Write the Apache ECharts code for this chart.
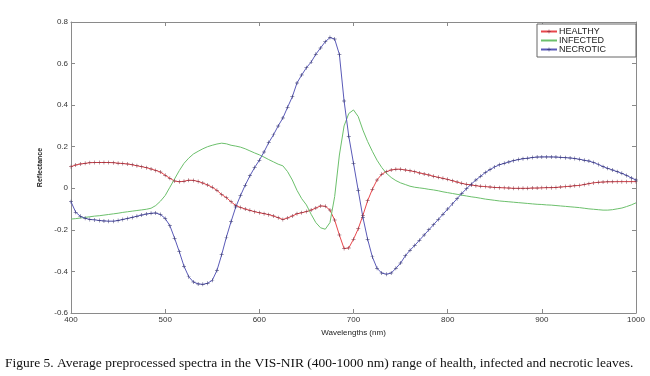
<!DOCTYPE html>
<html>
<head>
<meta charset="utf-8">
<script src="https://cdn.jsdelivr.net/npm/echarts@6/dist/echarts.min.js"></script>
<style>
html, body { margin: 0; padding: 0; background: #fff; }
#chart { width: 650px; height: 376px; }
</style>
</head>
<body>
<div id="chart"></div>
<script>
// longitudes de onda, cada 5 nm
const wavelengths = [];
for (let w = 400; w <= 1000; w += 5) wavelengths.push(w);

const healthy = [
  0.104, 0.112, 0.117, 0.120, 0.123, 0.124, 0.124, 0.124, 0.124, 0.123,
  0.121, 0.119, 0.117, 0.113, 0.108, 0.104, 0.099, 0.093, 0.086, 0.078,
  0.063, 0.048, 0.035, 0.031, 0.034, 0.039, 0.038, 0.033, 0.025, 0.016,
  0.005, -0.010, -0.030, -0.045, -0.065, -0.083, -0.092, -0.100, -0.106, -0.113,
  -0.118, -0.122, -0.127, -0.133, -0.142, -0.150, -0.143, -0.133, -0.123, -0.118,
  -0.112, -0.105, -0.095, -0.085, -0.086, -0.105, -0.153, -0.225, -0.290, -0.287,
  -0.245, -0.195, -0.130, -0.060, -0.005, 0.040, 0.068, 0.080, 0.088, 0.092,
  0.092, 0.088, 0.084, 0.080, 0.074, 0.069, 0.064, 0.058, 0.053, 0.048,
  0.043, 0.036, 0.030, 0.024, 0.019, 0.016, 0.012, 0.010, 0.008, 0.006,
  0.004, 0.003, 0.002, 0.001, 0.000, 0.000, 0.000, 0.000, 0.001, 0.001,
  0.002, 0.003, 0.003, 0.004, 0.006, 0.008, 0.010, 0.012, 0.014, 0.018,
  0.022, 0.026, 0.029, 0.030, 0.031, 0.031, 0.032, 0.032, 0.032, 0.032,
  0.032
];

const infected = [
  -0.148, -0.146, -0.143, -0.140, -0.137, -0.134, -0.132, -0.129, -0.126, -0.123,
  -0.120, -0.116, -0.113, -0.110, -0.107, -0.104, -0.101, -0.096, -0.083, -0.062,
  -0.035, 0.005, 0.045, 0.085, 0.120, 0.145, 0.165, 0.178, 0.190, 0.200,
  0.207, 0.213, 0.217, 0.214, 0.207, 0.203, 0.198, 0.190, 0.180, 0.170,
  0.161, 0.150, 0.138, 0.127, 0.116, 0.108, 0.080, 0.040, -0.010, -0.050,
  -0.080, -0.125, -0.165, -0.190, -0.197, -0.165, -0.040, 0.160, 0.300, 0.360,
  0.377, 0.345, 0.280, 0.225, 0.178, 0.135, 0.100, 0.072, 0.052, 0.037,
  0.026, 0.018, 0.010, 0.005, 0.002, -0.001, -0.005, -0.008, -0.012, -0.017,
  -0.021, -0.025, -0.029, -0.033, -0.037, -0.041, -0.044, -0.048, -0.052, -0.055,
  -0.058, -0.061, -0.063, -0.065, -0.067, -0.069, -0.071, -0.073, -0.075, -0.077,
  -0.078, -0.080, -0.081, -0.083, -0.085, -0.087, -0.089, -0.091, -0.093, -0.096,
  -0.099, -0.101, -0.103, -0.105, -0.105, -0.103, -0.099, -0.095, -0.088, -0.080,
  -0.070
];

const necrotic = [
  -0.065, -0.115, -0.135, -0.144, -0.150, -0.152, -0.155, -0.157, -0.158, -0.158,
  -0.155, -0.150, -0.145, -0.140, -0.134, -0.129, -0.124, -0.120, -0.119, -0.126,
  -0.145, -0.180, -0.240, -0.305, -0.375, -0.425, -0.451, -0.460, -0.462, -0.457,
  -0.443, -0.395, -0.320, -0.235, -0.160, -0.090, -0.035, 0.015, 0.060, 0.100,
  0.135, 0.175, 0.220, 0.257, 0.300, 0.338, 0.390, 0.440, 0.507, 0.545,
  0.580, 0.607, 0.645, 0.675, 0.705, 0.725, 0.718, 0.644, 0.420, 0.250,
  0.120, -0.010, -0.140, -0.245, -0.330, -0.385, -0.408, -0.413, -0.408, -0.385,
  -0.360, -0.325, -0.298, -0.275, -0.250, -0.225, -0.200, -0.175, -0.150, -0.125,
  -0.100, -0.075, -0.050, -0.025, -0.002, 0.020, 0.040, 0.058, 0.076, 0.090,
  0.103, 0.113, 0.120, 0.127, 0.133, 0.138, 0.142, 0.145, 0.148, 0.150,
  0.151, 0.151, 0.151, 0.150, 0.149, 0.147, 0.146, 0.143, 0.140, 0.135,
  0.131, 0.124, 0.115, 0.104, 0.096, 0.088, 0.080, 0.072, 0.062, 0.050,
  0.040
];

const xTicks = { min: 400, max: 1000, interval: 100 };
const yTicks = { min: -0.6, max: 0.8, interval: 0.2 };

const caption = 'Figure 5. Average preprocessed spectra in the VIS-NIR (400-1000 nm) range of health, infected and necrotic leaves.';

// marcador "+" estilo MATLAB
const plusMark = 'path://M4.4,0h1.2v4.4h4.4v1.2h-4.4v4.4h-1.2v-4.4h-4.4v-1.2h4.4z';

function pairs(vals) {
  return wavelengths.map((w, i) => [w, vals[i]]);
}

const axisCol = '#8a8a8a';
const labelStyle = { color: '#333', fontSize: 8, fontFamily: 'Arial, Liberation Sans, sans-serif' };

let chart = echarts.init(document.getElementById('chart'));
chart.setOption({
  animation: false,
  backgroundColor: '#fff',
  grid: { left: 71, right: 14, top: 22, bottom: 63 },
  legend: {
    orient: 'vertical',
    left: 537,
    top: 24,
    width: 97,
    itemWidth: 16,
    itemHeight: 5,
    itemGap: 0,
    padding: [3, 30, 3, 3],
    borderColor: '#666',
    borderWidth: 1,
    backgroundColor: '#fff',
    textStyle: { color: '#222', fontSize: 9, padding: [0, 0, 0, -3], fontFamily: 'Arial, Liberation Sans, sans-serif' },
    data: ['HEALTHY', { name: 'INFECTED', itemStyle: { opacity: 0 } }, 'NECROTIC']
  },
  xAxis: [
    {
      type: 'value', min: xTicks.min, max: xTicks.max, interval: xTicks.interval,
      name: 'Wavelengths (nm)', nameLocation: 'middle', nameGap: 14,
      nameTextStyle: { color: '#222', fontSize: 8, fontFamily: 'Arial, Liberation Sans, sans-serif' },
      axisLine: { onZero: false, lineStyle: { color: axisCol } },
      axisTick: { inside: true, length: 4, lineStyle: { color: axisCol } },
      axisLabel: Object.assign({ margin: 3, formatter: v => String(v) }, labelStyle),
      splitLine: { show: false }
    },
    {
      type: 'value', position: 'top', min: xTicks.min, max: xTicks.max, interval: xTicks.interval,
      axisLine: { show: true, onZero: false, lineStyle: { color: axisCol } },
      axisTick: { inside: true, length: 4, lineStyle: { color: axisCol } },
      axisLabel: { show: false },
      splitLine: { show: false }
    }
  ],
  yAxis: [
    {
      type: 'value', min: yTicks.min, max: yTicks.max, interval: yTicks.interval,
      name: 'Reflectance', nameLocation: 'middle', nameGap: 18,
      nameTextStyle: { color: '#222', fontSize: 7, fontWeight: 'bold', fontFamily: 'Arial, Liberation Sans, sans-serif' },
      axisLine: { show: true, onZero: false, lineStyle: { color: axisCol } },
      axisTick: { show: true, inside: true, length: 4, lineStyle: { color: axisCol } },
      axisLabel: Object.assign({ margin: 3, formatter: v => String(Math.round(v * 10) / 10) }, labelStyle),
      splitLine: { show: false }
    },
    {
      type: 'value', position: 'right', min: yTicks.min, max: yTicks.max, interval: yTicks.interval,
      axisLine: { show: true, onZero: false, lineStyle: { color: axisCol } },
      axisTick: { show: true, inside: true, length: 4, lineStyle: { color: axisCol } },
      axisLabel: { show: false },
      splitLine: { show: false }
    }
  ],
  series: [
    {
      name: 'HEALTHY', type: 'line', data: pairs(healthy),
      symbol: plusMark, symbolSize: 4, showAllSymbol: true,
      lineStyle: { color: '#e8474c', width: 1 },
      itemStyle: { color: '#7a2a3a' }
    },
    {
      name: 'INFECTED', type: 'line', data: pairs(infected),
      symbol: 'none',
      lineStyle: { color: '#6cc06c', width: 1 },
      itemStyle: { color: '#6cc06c' }
    },
    {
      name: 'NECROTIC', type: 'line', data: pairs(necrotic),
      symbol: plusMark, symbolSize: 4, showAllSymbol: true,
      lineStyle: { color: '#5a5ab8', width: 1 },
      itemStyle: { color: '#2e2e6a' }
    }
  ],
  graphic: [{
    type: 'text', left: 5, top: 356,
    style: {
      text: caption,
      fill: '#111',
      font: '13.5px "Liberation Serif", "Times New Roman", serif'
    }
  }]
});
</script>
</body>
</html>
